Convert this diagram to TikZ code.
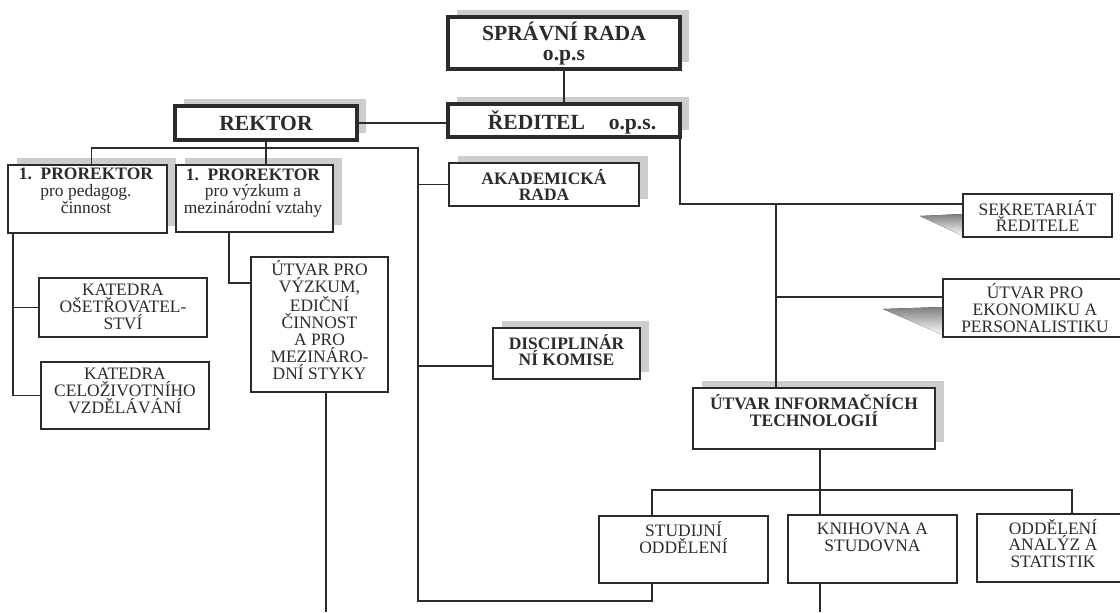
\documentclass[tikz,border=0pt]{standalone}
\usepackage{fontspec}
\setmainfont{Liberation Serif}
\usetikzlibrary{calc,shadows}
\definecolor{ink}{HTML}{2B2B2B}
\definecolor{shade}{HTML}{CDCDCD}
\begin{document}
\begin{tikzpicture}[x=0.75pt,y=-0.75pt,
  box/.style={draw=ink, fill=white, line width=0.9pt, inner sep=0pt, outer sep=0pt},
  bbox/.style={box, line width=2.3pt},
  shd/.style={general shadow={fill=shade, shadow xshift=6.4pt, shadow yshift=4.9pt}},
  txt/.style={align=center, inner sep=0pt, font=\fontsize{13.1}{12.6}\selectfont, text=ink},
  btxt/.style={txt, font=\fontsize{13.1}{12.6}\selectfont\bfseries},
  htxt/.style={txt, font=\fontsize{16.2}{15}\selectfont\bfseries},
  conn/.style={draw=ink, line width=1.3pt},
]
\useasboundingbox[fill=white] (0,0) rectangle (1120,612);

% triangular shadows
\fill[shade] (920,216) -- (963,214) -- (963,236) -- cycle;
\fill[shade] (883,309) -- (943,307) -- (943,335) -- cycle;

% boxes
\node[bbox,shd,minimum width=174pt,minimum height=39pt] (spr) at (564,43) {};
\node[htxt] (sprt) at (564,44) {SPRÁVNÍ RADA\\o.p.s};
\node[bbox,shd,minimum width=174pt,minimum height=24.75pt] (red) at (564,120.5) {};
\node[htxt] (redt) at (572,122) {ŘEDITEL\hspace{1.1em}o.p.s.};
\node[bbox,shd,minimum width=136.5pt,minimum height=25.5pt] (rek) at (266,123) {};
\node[htxt] (rekt) at (266,123) {REKTOR};

\node[box,shd,minimum width=119.25pt,minimum height=51pt] (pr1) at (87.5,199) {};
\node[txt] (pr1t) at (86,191) {\textbf{1.\ \ PROREKTOR}\\pro pedagog.\\činnost};
\node[box,shd,minimum width=117.75pt,minimum height=50.25pt] (pr2) at (254.5,198.5) {};
\node[txt] (pr2t) at (253,193) {\textbf{1.\ \ PROREKTOR}\\pro výzkum a\\mezinárodní vztahy};

\node[box,minimum width=126pt,minimum height=44.25pt] (kos) at (123,307.5) {};
\node[txt] (kost) at (123,307) {KATEDRA\\OŠETŘOVATEL-\\STVÍ};
\node[box,minimum width=126pt,minimum height=50.25pt] (kcv) at (125,395.5) {};
\node[txt] (kcvt) at (125,391) {KATEDRA\\CELOŽIVOTNÍHO\\VZDĚLÁVÁNÍ};

\node[box,minimum width=102.75pt,minimum height=101.25pt] (uvv) at (319.5,324.5) {};
\node[txt,font=\fontsize{13.1}{12.75}\selectfont] (uvvt) at (319.5,320) {ÚTVAR PRO\\VÝZKUM,\\EDIČNÍ\\ČINNOST\\A PRO\\MEZINÁRO-\\DNÍ STYKY};

\node[box,shd,minimum width=142.5pt,minimum height=32.25pt] (aka) at (544,184.5) {};
\node[btxt] (akat) at (544,185) {AKADEMICKÁ\\RADA};
\node[box,shd,minimum width=110.25pt,minimum height=38.25pt] (dis) at (566.5,353.5) {};
\node[btxt] (dist) at (566.5,350) {DISCIPLINÁR\\NÍ KOMISE};

\node[box,minimum width=111.75pt,minimum height=32.25pt] (sek) at (1037.5,215.5) {};
\node[txt] (sekt) at (1037.5,216) {SEKRETARIÁT\\ŘEDITELE};
\node[box,minimum width=138.75pt,minimum height=43.5pt] (eko) at (1035.5,308) {};
\node[txt] (ekot) at (1035,308) {ÚTVAR PRO\\EKONOMIKU A\\PERSONALISTIKU};

\node[box,shd,minimum width=181.5pt,minimum height=45.75pt] (uit) at (814,418.5) {};
\node[btxt] (uitt) at (814,410.5) {ÚTVAR INFORMAČNÍCH\\TECHNOLOGIÍ};

\node[box,minimum width=126.75pt,minimum height=50.25pt] (stu) at (683.5,549.5) {};
\node[txt] (stut) at (683.5,537.5) {STUDIJNÍ\\ODDĚLENÍ};
\node[box,minimum width=126.75pt,minimum height=51pt] (kni) at (872.5,549) {};
\node[txt] (knit) at (872.5,537) {KNIHOVNA A\\STUDOVNA};
\node[box,minimum width=114pt,minimum height=51pt] (odd) at (1053,548) {};
\node[txt] (oddt) at (1053,543.5) {ODDĚLENÍ\\ANALÝZ A\\STATISTIK};

% connectors
\coordinate (j1) at (418,148);
\coordinate (jb) at (418,601);
\draw[conn] (spr.south) -- (red.north);
\draw[conn] (rek.east) -- (rek.east -| red.west);
\draw[conn] (rek.south) -- (rek.south |- pr2.north);
\draw[conn] ($(pr1.north)+(4,0)$) |- (j1) -- (jb) -| ($(stu.south west)+(53,0)$);
\draw[conn] (aka.west -| j1) -- (aka.west);
\coordinate (dj) at ($(dis.south west)+(0,-13)$);
\draw[conn] (j1 |- dj) -- (dj);

\coordinate (l0) at ($(pr1.south west)+(5,0)$);
\draw[conn] (l0) |- (kcv.west);
\draw[conn] (l0 |- kos.west) -- (kos.west);
\coordinate (p0) at ($(pr2.south west)+(53,0)$);
\draw[conn] (p0) |- ($(uvv.north west)+(0,26)$);
\coordinate (e1) at (326,612);
\draw[conn] (uvv.south -| e1) -- (e1);

\coordinate (s0) at ($(sek.north west)+(0,10)$);
\draw[conn] (red.south east) |- (s0);
\coordinate (r1) at (776,204);
\draw[conn] (r1) -- (r1 |- uit.north);
\coordinate (k0) at ($(eko.north west)+(0,18)$);
\draw[conn] (r1 |- k0) -- (k0);

\coordinate (h) at (820,490);
\draw[conn] (uit.south -| h) -- (h);
\coordinate (st) at ($(stu.north west)+(53,0)$);
\coordinate (kt) at ($(kni.north west)+(32,0)$);
\coordinate (ot) at ($(odd.north west)+(95,0)$);
\draw[conn] (st) |- (h) -| (ot);
\draw[conn] (h) -- (kt);
\coordinate (e2) at (820,612);
\draw[conn] (kni.south -| e2) -- (e2);
\end{tikzpicture}
\end{document}
